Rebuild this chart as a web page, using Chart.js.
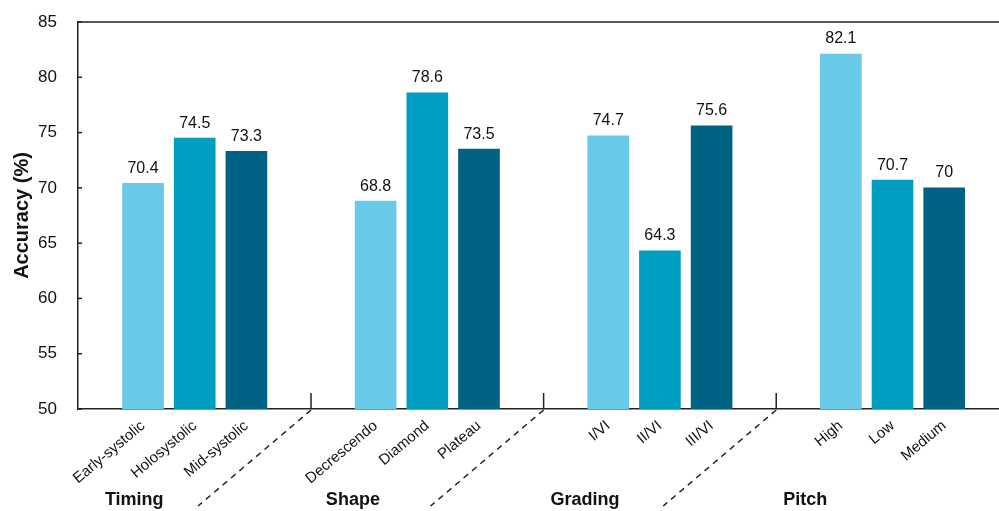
<html>
<head>
    <title>Accuracy by murmur attribute</title>
    <script src="https://cdn.jsdelivr.net/npm/chart.js"></script>
    <style>
        body { margin: 0; background: #fff; }
        #wrap { width: 999px; height: 511px; position: relative; }
    </style>
</head>
<body>
<div id="wrap"><canvas id="chart"></canvas></div>

<script>
    // data
    const categories = ['Early-systolic', 'Holosystolic', 'Mid-systolic',
        'Decrescendo', 'Diamond', 'Plateau',
        'I/VI', 'II/VI', 'III/VI',
        'High', 'Low', 'Medium'];
    const accuracy = [70.4, 74.5, 73.3, 68.8, 78.6, 73.5, 74.7, 64.3, 75.6, 82.1, 70.7, 70];
    const groups = ['Timing', 'Shape', 'Grading', 'Pitch'];
    const yTicks = [50, 55, 60, 65, 70, 75, 80, 85];

    // layout: 3 bars per group, groups 4.5 slots apart
    const slot = i => i + 1.5 * Math.floor(i / 3);
    const xPos = categories.map((c, i) => slot(i));
    const separators = [3.25, 7.75, 12.25];
    const groupLabelPos = [-0.17, 4.06, 8.55, 12.81];
    const shades = ['#68c9e9', '#009ec0', '#006384'];

    const txt = '#111';
    const font = 'Arial, "Liberation Sans", sans-serif';

    const extras = {
        id: 'extras',
        afterDraw(chart) {
            const c = chart.ctx;
            const area = chart.chartArea;
            const xs = chart.scales.x;
            const ys = chart.scales.y;
            c.save();
            c.strokeStyle = '#222';
            c.lineWidth = 1.5;
            // top border
            c.beginPath();
            c.moveTo(area.left, area.top);
            c.lineTo(area.right, area.top);
            c.stroke();
            // small inward ticks on y axis
            yTicks.forEach(v => {
                const y = ys.getPixelForValue(v);
                c.beginPath();
                c.moveTo(area.left, y);
                c.lineTo(area.left + 4, y);
                c.stroke();
            });
            // group separators
            separators.forEach(s => {
                const x = xs.getPixelForValue(s);
                c.setLineDash([]);
                c.beginPath();
                c.moveTo(x, area.bottom - 16);
                c.lineTo(x, area.bottom);
                c.stroke();
                c.setLineDash([6, 5]);
                c.beginPath();
                c.moveTo(x, area.bottom + 1);
                c.lineTo(x - 113, area.bottom + 97);
                c.stroke();
            });
            c.setLineDash([]);
            // value labels
            c.fillStyle = txt;
            c.font = '16px ' + font;
            c.textAlign = 'center';
            c.textBaseline = 'bottom';
            chart.getDatasetMeta(0).data.forEach((bar, i) => {
                c.fillText(String(accuracy[i]), bar.x, bar.y - 7);
            });
            // group labels
            c.font = 'bold 18px ' + font;
            c.textBaseline = 'middle';
            groups.forEach((g, i) => {
                c.fillText(g, xs.getPixelForValue(groupLabelPos[i]), 500);
            });
            c.restore();
        }
    };

    const noPad = scale => {
        scale.paddingTop = 0;
        scale.paddingBottom = 0;
        scale.paddingLeft = 0;
        scale.paddingRight = 0;
    };

    const ctx = document.getElementById('chart').getContext('2d');
    const chart = new Chart(ctx, {
        type: 'bar',
        data: {
            datasets: [{
                data: accuracy.map((v, i) => ({x: xPos[i], y: v})),
                backgroundColor: categories.map((c, i) => shades[i % 3]),
                barThickness: 41
            }]
        },
        options: {
            responsive: true,
            maintainAspectRatio: false,
            animation: false,
            layout: {padding: {top: 22, right: 0, left: 0, bottom: 0}},
            plugins: {legend: {display: false}, tooltip: {enabled: false}},
            scales: {
                x: {
                    type: 'linear',
                    offset: false,
                    min: -1.258,
                    max: 16.56,
                    grid: {display: false, offset: false},
                    border: {color: '#222', width: 1.5},
                    afterBuildTicks: scale => {
                        scale.ticks = xPos.map(v => ({value: v}));
                    },
                    afterFit: scale => { scale.height = 102; noPad(scale); },
                    ticks: {
                        autoSkip: false,
                        minRotation: 40,
                        maxRotation: 40,
                        padding: 0,
                        color: txt,
                        font: {size: 15, family: font},
                        callback: (v, i) => categories[i]
                    }
                },
                y: {
                    min: 50,
                    max: 85,
                    grid: {display: false, drawTicks: false},
                    border: {color: '#222', width: 1.5},
                    afterFit: scale => { scale.width = 78; noPad(scale); },
                    ticks: {
                        stepSize: 5,
                        padding: 21,
                        color: txt,
                        font: {size: 17, family: font}
                    },
                    title: {
                        display: true,
                        text: 'Accuracy (%)',
                        color: txt,
                        font: {size: 20, weight: 'bold', family: font},
                        padding: {top: 10, bottom: 0}
                    }
                }
            }
        },
        plugins: [extras]
    });
</script>
</body>
</html>
